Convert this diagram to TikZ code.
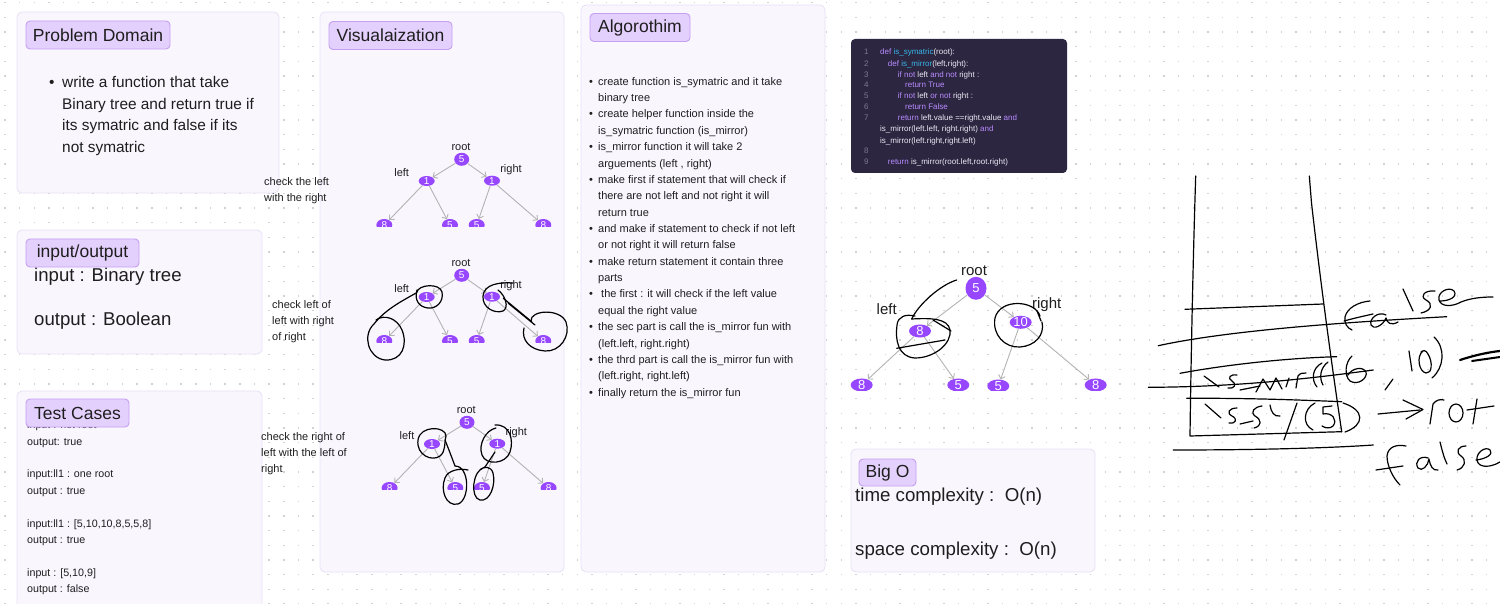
\documentclass[tikz,border=0pt]{standalone}
\usepackage{fontspec}
\setmainfont{Liberation Sans}
\usetikzlibrary{shapes.geometric,arrows.meta}
\definecolor{panelfill}{HTML}{F9F6FE}
\definecolor{panelborder}{HTML}{E9E1F7}
\definecolor{tagfill}{HTML}{E4D0FC}
\definecolor{tagborder}{HTML}{C3A0F0}
\definecolor{nodepurple}{HTML}{9747FF}
\definecolor{arrowgray}{HTML}{B3B3B3}
\definecolor{textcol}{HTML}{1E1E1E}
\definecolor{dotgray}{HTML}{D2D2D2}
\definecolor{codebg}{HTML}{2C2641}
\definecolor{codenum}{HTML}{7E7893}
\definecolor{codetxt}{HTML}{EDEAF5}
\definecolor{codekw}{HTML}{B98CFF}
\definecolor{codefn}{HTML}{38B6E8}
\newcommand\kwc[1]{\textcolor{codekw}{#1}}
\newcommand\fnc[1]{\textcolor{codefn}{#1}}
\newcommand\drawvistree[3]{%
\begin{scope}[shift={(#2,#3)}]
  \node[lbl] (#1rootlbl) at (461,147) {root};
  \node[tn, minimum width=15, minimum height=13] (#1root) at (461.7,159.3) {5};
  \node[lbl] (#1leftlbl) at (401.7,172.3) {left};
  \node[tn] (#1l) at (426.7,181) {1};
  \node[lbl] (#1rightlbl) at (511,169.3) {right};
  \node[tn] (#1r) at (492,180.7) {1};
  \begin{scope}
    \clip (360,200) rectangle (570,226.7);
    \node[tn, minimum width=16, minimum height=12] (#1ll) at (384.3,225) {8};
    \node[tn, minimum width=16, minimum height=12] (#1lr) at (450,225) {5};
    \node[tn, minimum width=16, minimum height=12] (#1rl) at (476.7,225) {5};
    \node[tn, minimum width=16, minimum height=12] (#1rr) at (543.3,225) {8};
  \end{scope}
  \draw[arr] (#1root) -- (#1l);
  \draw[arr] (#1root) -- (#1r);
  \draw[arr] (#1l) -- (#1ll);
  \draw[arr] (#1l) -- (#1lr);
  \draw[arr] (#1r) -- (#1rl);
  \draw[arr] (#1r) -- (#1rr);
\end{scope}}
\begin{document}
\begin{tikzpicture}[x=1pt,y=-1pt,
  panel/.style={fill=panelfill, draw=panelborder, line width=0.8, rounded corners=5},
  tag/.style={fill=tagfill, draw=tagborder, line width=0.9, rounded corners=4, inner sep=0, text=textcol, font=\fontsize{17.5}{20}\selectfont, minimum height=28},
  txt/.style={inner sep=0, text=textcol},
  lbl/.style={txt, font=\fontsize{11}{13}\selectfont},
  multi/.style={txt, anchor=north west, align=left},
  tn/.style={ellipse, fill=nodepurple, text=white, inner sep=0, minimum width=16, minimum height=10, font=\fontsize{10}{12}\selectfont},
  bign/.style={ellipse, fill=nodepurple, text=white, inner sep=0, minimum width=22, minimum height=13, font=\fontsize{13}{15}\selectfont},
  arr/.style={draw=arrowgray, line width=0.9, -{Straight Barb[length=3.5pt,width=7pt]}},
  hand/.style={draw=black, line width=1.2, line cap=round, line join=round},
  code/.style={inner sep=0, anchor=base west, text=codetxt, font=\fontsize{8}{10}\selectfont},
  cnum/.style={code, text=codenum}]
\clip (0,0) rectangle (1500,604);
\fill[white] (0,0) rectangle (1500,604);
\foreach \i in {0,...,102}{\foreach \j in {0,...,41}{\fill[dotgray] ({4.4+14.67*\i},{3.3+14.67*\j}) rectangle ++(1.4,-1.4);}}

% panels
\path[panel] (17,12) rectangle (279,193);
\path[panel] (17,230) rectangle (262,354);
\path[panel] (17,391) rectangle (262,630);
\path[panel] (320,12) rectangle (564,572);
\path[panel] (581,5) rectangle (825,572);
\path[panel] (851,449) rectangle (1095,572);

% problem domain
\node[multi, font=\fontsize{15.4}{21.7}\selectfont] (pdtext) at (49,76.1)
 {\makebox[13pt][l]{•}write a function that take\\\hspace*{13pt}Binary tree and return true if\\\hspace*{13pt}its symatric and false if its\\\hspace*{13pt}not symatric};
\node[tag, minimum width=144] (tagpd) at (98,35) {Problem Domain};

% input/output
\node[txt, anchor=base west, font=\fontsize{18.6}{22}\selectfont] (iin) at (34,281.5) {input : Binary tree};
\node[txt, anchor=base west, font=\fontsize{18.6}{22}\selectfont] (iout) at (34,325.8) {output : Boolean};
\node[tag, minimum width=113] (tagio) at (82.5,253) {input/output};

% test cases
\node[multi, font=\fontsize{10.7}{16.4}\selectfont] (tctext) at (27,420.8)
 {input : not root\\output: true\\[16.4pt]input:ll1 : one root\\output : true\\[16.4pt]input:ll1 : [5,10,10,8,5,5,8]\\output : true\\[16.4pt]input : [5,10,9]\\output : false};
\node[tag, minimum width=103] (tagtc) at (77.5,413) {Test Cases};

% visualization
\node[tag, minimum width=123] (tagvis) at (390.5,35.5) {Visualaization};
\drawvistree{a}{0}{0}
\drawvistree{b}{0}{116}
\drawvistree{c}{5.3}{263}
\node[multi, font=\fontsize{11}{16.4}\selectfont] (chk1) at (264,177) {check the left\\with the right};
\node[multi, font=\fontsize{11}{16.4}\selectfont] (chk2) at (272,300) {check left of\\left with right\\of right};
\node[multi, font=\fontsize{11}{16.4}\selectfont] (chk3) at (261,432) {check the right of\\left with the left of\\right};

% handwriting on tree 2
\draw[hand] (374,324) .. controls (385,310) and (400,302) .. (416.7,292.7);
\draw[hand] (416.7,292.7) .. controls (418,284) and (440,283) .. (442,292) .. controls (444,302) and (436,309) .. (428,308) .. controls (419,307) and (414,300) .. (417,290);
\draw[hand] (374,324) .. controls (362,335) and (368,358) .. (385,360) .. controls (402,361) and (408,345) .. (402,330) .. controls (397,318) and (384,314) .. (376,320);
\draw[hand] (513,283) .. controls (500,282) and (484,284) .. (483,296) .. controls (482,308) and (495,314) .. (503,311) .. controls (509,308) and (506,296) .. (498,290);
\draw[hand] (503.3,298.3) -- (531.7,321.7);
\draw[hand] (508.3,303.3) -- (535,325);
\draw[hand] (531,321) .. controls (530,310) and (560,308) .. (566,322) .. controls (571,336) and (560,352) .. (545,351) .. controls (530,350) and (521,340) .. (524,328);

% handwriting on tree 3
\draw[hand] (446,436) .. controls (446,426) and (420,425) .. (418,440) .. controls (416,455) and (432,462) .. (440,456) .. controls (446,451) and (444,444) .. (446,436);
\draw[hand] (445,440) .. controls (449,450) and (452,458) .. (455,466);
\draw[hand] (455,466) .. controls (470,466) and (470,500) .. (458,504) .. controls (446,507) and (440,490) .. (445,478) .. controls (448,470) and (460,468) .. (468,470);
\draw[hand] (495,425) .. controls (510,424) and (514,440) .. (510,452) .. controls (506,464) and (486,466) .. (482,455) .. controls (478,444) and (486,430) .. (496,428);
\draw[hand] (495,452) -- (485,467);
\draw[hand] (485,467) .. controls (472,470) and (470,498) .. (480,500) .. controls (490,502) and (496,485) .. (493,473) .. controls (491,466) and (484,466) .. (480,470);

% algorithm
\node[tag, minimum width=100] (tagalg) at (640,27.5) {Algorothim};
\node[multi, font=\fontsize{11}{16.37}\selectfont] (algtext) at (589,77)
 {\makebox[9pt][l]{•}create function is\_symatric and it take\\\hspace*{9pt}binary tree\\
  \makebox[9pt][l]{•}create helper function inside the\\\hspace*{9pt}is\_symatric function (is\_mirror)\\
  \makebox[9pt][l]{•}is\_mirror function it will take 2\\\hspace*{9pt}arguements (left , right)\\
  \makebox[9pt][l]{•}make first if statement that will check if\\\hspace*{9pt}there are not left and not right it will\\\hspace*{9pt}return true\\
  \makebox[9pt][l]{•}and make if statement to check if not left\\\hspace*{9pt}or not right it will return false\\
  \makebox[9pt][l]{•}make return statement it contain three\\\hspace*{9pt}parts\\
  \makebox[9pt][l]{•}\hspace*{3pt}the first : it will check if the left value\\\hspace*{9pt}equal the right value\\
  \makebox[9pt][l]{•}the sec part is call the is\_mirror fun with\\\hspace*{9pt}(left.left, right.right)\\
  \makebox[9pt][l]{•}the thrd part is call the is\_mirror fun with\\\hspace*{9pt}(left.right, right.left)\\
  \makebox[9pt][l]{•}finally return the is\_mirror fun};

% code panel
\path[fill=codebg, rounded corners=4] (851,39) rectangle (1067,173);
\node[cnum] (n1) at (864,54.6) {1};
\node[cnum] (n2) at (864,66.2) {2};
\node[cnum] (n3) at (864,77.2) {3};
\node[cnum] (n4) at (864,87.9) {4};
\node[cnum] (n5) at (864,98.9) {5};
\node[cnum] (n6) at (864,109.6) {6};
\node[cnum] (n7) at (864,120.6) {7};
\node[cnum] (n8) at (864,153.9) {8};
\node[cnum] (n9) at (864,164.9) {9};
\node[code] (c1) at (880,54.6) {\kwc{def} \fnc{is\_symatric}(root):};
\node[code] (c2) at (887.7,66.2) {\kwc{def} \fnc{is\_mirror}(left,right):};
\node[code] (c3) at (897.7,77.2) {\kwc{if not} left \kwc{and not} right :};
\node[code] (c4) at (905,87.9) {\kwc{return True}};
\node[code] (c5) at (897.7,98.9) {\kwc{if not} left \kwc{or not} right :};
\node[code] (c6) at (905,109.6) {\kwc{return False}};
\node[code] (c7) at (897.7,120.6) {\kwc{return} left.value ==right.value \kwc{and}};
\node[code] (c7b) at (880,131.9) {is\_mirror(left.left, right.right) \kwc{and}};
\node[code] (c7c) at (880,143.2) {is\_mirror(left.right,right.left)};
\node[code] (c9) at (887.7,164.9) {\kwc{return} is\_mirror(root.left,root.right)};

% right tree
\node[txt, font=\fontsize{15}{18}\selectfont] (rtrootlbl) at (974,271) {root};
\node[bign, minimum width=21, minimum height=23] (rtroot) at (976,288.3) {5};
\node[txt, font=\fontsize{15}{18}\selectfont] (rtleftlbl) at (886.7,309.3) {left};
\node[bign, minimum height=12] (rtl) at (920,331) {8};
\node[txt, font=\fontsize{15}{18}\selectfont] (rtrightlbl) at (1046.7,304.3) {right};
\node[bign] (rtr) at (1020.7,322.3) {10};
\begin{scope}
  \clip (840,360) rectangle (1120,390);
  \node[bign] (rtll) at (861.7,385) {8};
  \node[bign] (rtlr) at (958.3,385) {5};
  \node[bign] (rtrl) at (998.3,386) {5};
  \node[bign] (rtrr) at (1095.7,385) {8};
\end{scope}
\draw[arr] (rtroot) -- (rtl);
\draw[arr] (rtroot) -- (rtr);
\draw[arr] (rtl) -- (rtll);
\draw[arr] (rtl) -- (rtlr);
\draw[arr] (rtr) -- (rtrl);
\draw[arr] (rtr) -- (rtrr);
\draw[hand] (956.7,280) .. controls (940,285) and (918,305) .. (911.7,319);
\draw[hand] (911.7,319) .. controls (930,318) and (948,318) .. (950,330) .. controls (952,343) and (935,358) .. (915,358) .. controls (898,357) and (895,340) .. (897,325) .. controls (898,316) and (906,314) .. (915,316);
\draw[hand] (896.7,348.3) -- (945,340);
\draw[hand] (933,320) -- (951,331);
\draw[hand] (1040,316) .. controls (1035,300) and (1000,298) .. (995,318) .. controls (992,335) and (1005,348) .. (1020,347) .. controls (1035,346) and (1045,335) .. (1042,322);
\draw[hand] (1037,311) -- (1041,321);

% big O
\node[txt, anchor=base west, font=\fontsize{18.7}{22}\selectfont] (bigot) at (855,501) {time complexity :\ \ O(n)};
\node[txt, anchor=base west, font=\fontsize{18.7}{22}\selectfont] (bigos) at (855,555) {space complexity :\ \ O(n)};
\node[tag, minimum width=57, minimum height=27] (tagbig) at (887.5,472.5) {Big O};

% handwritten stack
\draw[hand] (1195.7,176) .. controls (1193,260) and (1191,360) .. (1190,436) -- (1341.7,431.7);
\draw[hand] (1309.3,176) -- (1311.5,203) .. controls (1318,260) and (1328,340) .. (1341.7,431.7);
\draw[hand] (1185,309.3) -- (1323.3,304);
\draw[hand] (1158.3,345.7) .. controls (1230,330) and (1350,322) .. (1446.7,316.7);
\draw[hand] (1180,373.3) .. controls (1230,364) and (1290,358) .. (1336.7,356.7);
\draw[hand] (1148.3,387.3) .. controls (1230,387) and (1300,380) .. (1373.3,370);
\draw[hand] (1186.7,398.3) .. controls (1250,398) and (1300,400) .. (1341.7,401.7);
\draw[hand] (1173.3,450) .. controls (1260,450) and (1330,448) .. (1373.3,445);
% False (top)
\draw[hand] (1370,301) .. controls (1358,302) and (1347,308) .. (1345,317) .. controls (1344,323) and (1347,328) .. (1352,330);
\draw[hand] (1344,321) .. controls (1355,318) and (1364,316) .. (1373,314);
\draw[hand] (1386,315) .. controls (1379,311) and (1369,318) .. (1371,325) .. controls (1373,330) and (1383,326) .. (1386,318) .. controls (1387,323) and (1391,326) .. (1398,322);
\draw[hand] (1403,289) -- (1413,311);
\draw[hand] (1435,291) .. controls (1425,290) and (1419,296) .. (1426,300) .. controls (1434,304) and (1431,311) .. (1421,313);
\draw[hand] (1440,301) .. controls (1449,301) and (1458,297) .. (1454,291) .. controls (1449,286) and (1437,292) .. (1439,300) .. controls (1441,307) and (1452,307) .. (1461,302) .. controls (1471,298) and (1482,297) .. (1493,297);
% is_Mir(8,10)
\draw[hand] (1204,376) -- (1219,387);
\draw[hand] (1237,375) .. controls (1230,374) and (1227,378) .. (1232,381) .. controls (1237,384) and (1235,389) .. (1228,388);
\draw[hand] (1240,390) -- (1260,386);
\draw[hand] (1256,392) -- (1263,379) -- (1270,390) -- (1276,378) -- (1282,389);
\draw[hand] (1286,387) -- (1289,378);
\draw[hand] (1296,388) -- (1298,376) .. controls (1300,373) and (1303,373) .. (1306,373);
\draw[hand] (1322,363) .. controls (1312,368) and (1311,380) .. (1317,387);
\draw[hand] (1328,362) .. controls (1320,368) and (1319,378) .. (1323,385);
\draw[hand] (1352,356) .. controls (1345,362) and (1344,376) .. (1350,381) .. controls (1358,386) and (1368,378) .. (1366,372) .. controls (1363,366) and (1352,368) .. (1348,375);
\draw[hand] (1393,379) -- (1385,390);
\draw[hand] (1409,351) .. controls (1410,358) and (1411,364) .. (1412,371);
\draw[hand] (1423,351) .. controls (1416,356) and (1419,372) .. (1426,373) .. controls (1432,374) and (1433,362) .. (1428,354) .. controls (1426,350) and (1423,350) .. (1421,352);
\draw[hand] (1434,337) .. controls (1446,348) and (1444,368) .. (1432,378);
\draw[hand, line width=2.2] (1460,360) .. controls (1475,355) and (1490,352) .. (1500,351);
\draw[hand, line width=2] (1472,361) -- (1500,357);
% is_sy(5) -> rot
\draw[hand] (1205,404) -- (1221,418);
\draw[hand] (1237,408) .. controls (1229,408) and (1226,413) .. (1232,416) .. controls (1238,419) and (1236,424) .. (1229,423);
\draw[hand] (1240,424) -- (1253,421);
\draw[hand] (1262,406) .. controls (1254,407) and (1250,412) .. (1255,416) .. controls (1262,420) and (1262,426) .. (1254,428);
\draw[hand] (1270,405) .. controls (1271,412) and (1274,417) .. (1280,416);
\draw[hand] (1297,403) -- (1284,440);
\draw[hand] (1315,403) .. controls (1303,409) and (1302,425) .. (1313,430);
\draw[hand] (1332,406) -- (1323,407) -- (1323,414) .. controls (1332,412) and (1338,420) .. (1333,426) .. controls (1330,429) and (1325,428) .. (1322,426);
\draw[hand] (1343,403) .. controls (1365,410) and (1365,425) .. (1345,432);
\draw[hand] (1378,414) -- (1420,410);
\draw[hand] (1403,400) -- (1423,409.5) -- (1406,419);
\draw[hand] (1430,424) -- (1433,404) .. controls (1436,400) and (1440,399) .. (1444,400);
\draw[hand] (1456,413) ellipse [x radius=7, y radius=9];
\draw[hand] (1477,399) -- (1473,424);
\draw[hand] (1467,410) -- (1494,406);
% False (bottom)
\draw[hand] (1406,446) .. controls (1396,444) and (1388,447) .. (1387,456) .. controls (1387,466) and (1393,478) .. (1400,485);
\draw[hand] (1376,470) -- (1403,466);
\draw[hand] (1428,458) .. controls (1420,455) and (1414,462) .. (1418,468) .. controls (1422,472) and (1428,466) .. (1429,459) .. controls (1430,466) and (1433,471) .. (1438,470);
\draw[hand] (1440,442) .. controls (1442,450) and (1444,458) .. (1447,464);
\draw[hand] (1466,446) .. controls (1458,446) and (1455,452) .. (1461,456) .. controls (1467,460) and (1465,468) .. (1457,470);
\draw[hand] (1476,460) .. controls (1486,459) and (1494,454) .. (1490,450) .. controls (1486,446) and (1476,452) .. (1477,460) .. controls (1478,468) and (1490,468) .. (1500,462);
\end{tikzpicture}
\end{document}
